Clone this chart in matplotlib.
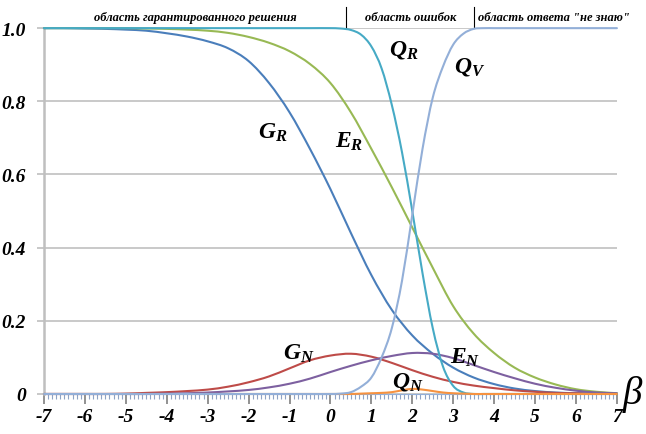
import matplotlib
matplotlib.use("Agg")
import matplotlib.pyplot as plt
from matplotlib.path import Path
from matplotlib.patches import PathPatch
from matplotlib.ticker import MultipleLocator

plt.rcParams['mathtext.fontset'] = 'custom'
plt.rcParams['mathtext.it'] = 'Liberation Serif:italic:bold'
plt.rcParams['mathtext.rm'] = 'Liberation Serif:italic:bold'
plt.rcParams['mathtext.bf'] = 'Liberation Serif:italic:bold'

# data
x_half = [-7, -6.5, -6, -5.5, -5, -4.5, -4, -3.5, -3, -2.5, -2, -1.5, -1, -0.5,
          0, 0.5, 1, 1.5, 2, 2.5, 3, 3.5, 4, 4.5, 5, 5.5, 6, 6.5, 7]
g_r = [1.0, 1.0, 0.999, 0.998, 0.996, 0.993, 0.986, 0.977, 0.964, 0.945, 0.91,
       0.85, 0.77, 0.67, 0.56, 0.44, 0.325, 0.23, 0.16, 0.11, 0.072, 0.045, 0.027,
       0.015, 0.008, 0.004, 0.002, 0.001, 0.0]
e_r = [1.0, 1.0, 1.0, 1.0, 1.0, 0.999, 0.998, 0.996, 0.993, 0.987, 0.976, 0.96,
       0.937, 0.902, 0.85, 0.77, 0.67, 0.565, 0.455, 0.345, 0.24, 0.165, 0.112,
       0.072, 0.045, 0.026, 0.013, 0.006, 0.002]
g_n = [0.0, 0.0, 0.0, 0.0, 0.001, 0.003, 0.005, 0.008, 0.012, 0.02, 0.032, 0.048,
       0.07, 0.092, 0.105, 0.11, 0.102, 0.085, 0.065, 0.047, 0.033, 0.023, 0.016,
       0.01, 0.006, 0.003, 0.002, 0.001, 0.0]
e_n = [0.0, 0.0, 0.0, 0.0, 0.0, 0.0, 0.001, 0.002, 0.004, 0.007, 0.011, 0.018,
       0.028, 0.042, 0.06, 0.077, 0.092, 0.104, 0.112, 0.11, 0.098, 0.079, 0.06,
       0.043, 0.028, 0.017, 0.009, 0.004, 0.002]

x_q = [-7, -6, -5, -4, -3, -2, -1, -0.5, 0, 0.25, 0.5, 0.75, 1, 1.25, 1.5, 1.75, 2,
       2.25, 2.5, 2.75, 3, 3.25, 3.5, 3.75, 4, 5, 6, 7]
q_r = [1.0, 1.0, 1.0, 1.0, 1.0, 1.0, 1.0, 1.0, 1.0, 0.999, 0.995, 0.982, 0.95,
       0.89, 0.79, 0.66, 0.5, 0.33, 0.18, 0.075, 0.022, 0.004, 0.0, 0.0, 0.0, 0.0,
       0.0, 0.0]
q_v = [0.0, 0.0, 0.0, 0.0, 0.0, 0.0, 0.0, 0.0, 0.0, 0.001, 0.005, 0.02, 0.045,
       0.1, 0.18, 0.31, 0.49, 0.67, 0.81, 0.895, 0.955, 0.985, 0.998, 1.0, 1.0, 1.0,
       1.0, 1.0]
q_n = [0.0, 0.0, 0.0, 0.0, 0.0, 0.0, 0.0, 0.0, 0.0, 0.0, 0.0, 0.001, 0.002, 0.003,
       0.005, 0.01, 0.014, 0.012, 0.008, 0.004, 0.002, 0.001, 0.0, 0.0, 0.0, 0.0,
       0.0, 0.0]

regions = ['область гарантированного решения', 'область ошибок',
           'область ответа "не знаю"']
region_x = [-3.3, 1.95, 5.45]
borders = [0.37, 3.5]


def smooth_line(ax, xs, ys, color, lw):
    # smoothed line like the spreadsheet's, drawn as cubic bezier pieces
    n = len(xs)
    slopes = []
    for i in range(n):
        a, b = max(i - 1, 0), min(i + 1, n - 1)
        slopes.append((ys[b] - ys[a]) / (xs[b] - xs[a]))
    verts = [(xs[0], ys[0])]
    codes = [Path.MOVETO]
    for i in range(n - 1):
        h = (xs[i + 1] - xs[i]) / 3
        verts += [(xs[i] + h, ys[i] + slopes[i] * h),
                  (xs[i + 1] - h, ys[i + 1] - slopes[i + 1] * h),
                  (xs[i + 1], ys[i + 1])]
        codes += [Path.CURVE4] * 3
    patch = PathPatch(Path(verts, codes), fill=False, edgecolor=color, lw=lw,
                      clip_on=False, zorder=3, capstyle='round', joinstyle='round')
    ax.add_patch(patch)


fig = plt.figure(figsize=(6.46, 4.35), dpi=100)
ax = fig.add_axes([0.068, 0.092, 0.887, 0.841])

lw = 1.5
smooth_line(ax, x_half, g_r, '#4A7EBB', lw)
smooth_line(ax, x_half, g_n, '#BE4B48', lw)
smooth_line(ax, x_half, e_r, '#98B954', lw)
smooth_line(ax, x_half, e_n, '#7D60A0', lw)
smooth_line(ax, x_q, q_r, '#46AAC5', lw)
smooth_line(ax, x_q, q_n, '#F69240', lw)
smooth_line(ax, x_q, q_v, '#93AFD8', lw)

ax.set_xlim(-7, 7)
ax.set_ylim(0, 1.0)
ax.yaxis.set_major_locator(MultipleLocator(0.2))
ax.xaxis.set_major_locator(MultipleLocator(1))
ax.xaxis.set_minor_locator(MultipleLocator(0.1))
ax.grid(axis='y', color='#C0C0C0', lw=1.2)
ax.set_axisbelow(True)

for s in ['top', 'right']:
    ax.spines[s].set_visible(False)
ax.spines['left'].set_color('#BFBFBF')
ax.spines['left'].set_linewidth(1.8)
ax.spines['bottom'].set_color('#93AFD8')

ax.tick_params(axis='y', length=5, color='#BFBFBF', width=1.2, pad=8)
ax.tick_params(axis='x', which='major', length=7, color='#7F7F7F', width=1.2, pad=3)
ax.tick_params(axis='x', which='minor', length=3.5, color='#8FA3C4', width=0.8)

tick_font = dict(family='Liberation Serif', style='italic', weight='bold', size=14)
ax.set_yticks([0, 0.2, 0.4, 0.6, 0.8, 1.0])
ax.set_yticklabels(['0', '0.2', '0.4', '0.6', '0.8', '1.0'], **tick_font)
ax.set_xticks(range(-7, 8))
ax.set_xticklabels([str(v) for v in range(-7, 8)], **tick_font)

# region header
for label, xr in zip(regions, region_x):
    ax.text(xr, 1.03, label, ha='center', va='center', family='Liberation Serif',
            style='italic', weight='bold', size=9, clip_on=False)
for b in borders:
    ax.plot([b, b], [1.0, 1.057], color='black', lw=0.8, clip_on=False)

# curve labels
labels = [r'$G_R$', r'$E_R$', r'$Q_R$', r'$Q_V$', r'$G_N$', r'$E_N$', r'$Q_N$']
label_x = [-1.4, 0.45, 1.8, 3.4, -0.78, 3.3, 1.88]
label_y = [0.72, 0.695, 0.945, 0.9, 0.115, 0.105, 0.038]
for t, lx, ly in zip(labels, label_x, label_y):
    ax.text(lx, ly, t, ha='center', va='center', size=17, zorder=5)

ax.text(7.15, 0.0, 'β', ha='left', va='center', family='Liberation Serif',
        style='italic', size=28, clip_on=False)

fig.savefig('out.png', dpi=100)
